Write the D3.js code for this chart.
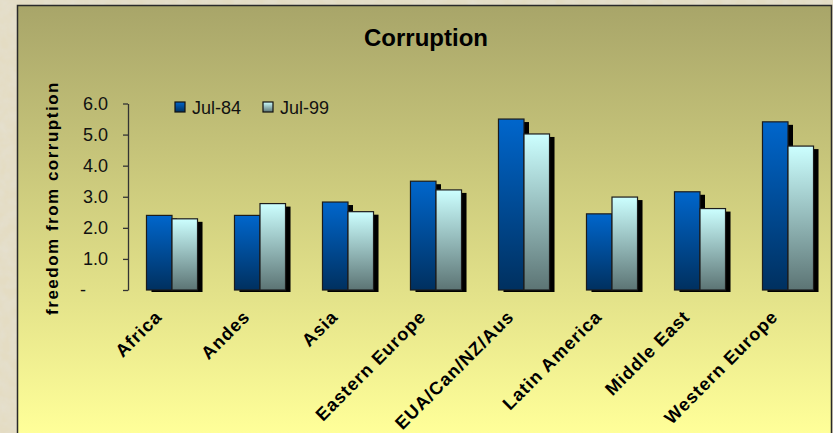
<!DOCTYPE html>
<html>
<head>
<meta charset="utf-8">
<script src="https://cdn.jsdelivr.net/npm/d3@7/dist/d3.min.js"></script>
<style>
  html, body { margin: 0; padding: 0; background: #e4dcc3; }
  svg { display: block; font-family: "Liberation Sans", Arial, sans-serif; }
</style>
</head>
<body>
<svg id="chart"></svg>
<script>
let categories = ['Africa', 'Andes', 'Asia', 'Eastern Europe', 'EUA/Can/NZ/Aus', 'Latin America', 'Middle East', 'Western Europe'];
let seriesNames = ['Jul-84', 'Jul-99'];
let jul84 = [2.40, 2.40, 2.83, 3.50, 5.50, 2.45, 3.16, 5.41];
let jul99 = [2.29, 2.78, 2.52, 3.22, 5.02, 2.99, 2.62, 4.63];
let yTicks = [0, 1, 2, 3, 4, 5, 6];

let width = 833,
    height = 433;

let rows = categories.map((c, i) => ({ cat: c, values: [jul84[i], jul99[i]] }));

let svg = d3.select('#chart')
            .attr('width', width)
            .attr('height', height);

let defs = svg.append('defs');

// parchment texture outside the chart panel
let tex = defs.append('filter')
              .attr('id', 'parchment')
              .attr('x', 0).attr('y', 0).attr('width', 1).attr('height', 1);
tex.append('feTurbulence')
    .attr('type', 'fractalNoise')
    .attr('baseFrequency', 0.09)
    .attr('numOctaves', 3)
    .attr('seed', 4);
tex.append('feColorMatrix')
    .attr('values', '0 0 0 0 0.78  0 0 0 0 0.74  0 0 0 0 0.62  0 0 0 -1.6 1.15');
tex.append('feComposite').attr('in2', 'SourceGraphic').attr('operator', 'in');

let panelGrad = defs.append('linearGradient')
                    .attr('id', 'panelGrad')
                    .attr('gradientUnits', 'userSpaceOnUse')
                    .attr('x1', 0).attr('y1', 5).attr('x2', 0).attr('y2', 433);
panelGrad.append('stop').attr('offset', 0).attr('stop-color', '#a8a569');
panelGrad.append('stop').attr('offset', 1).attr('stop-color', '#ffff99');

let barColors = [['#0066cc', '#00305f'], ['#ccffff', '#5c7474']];
barColors.forEach((c, i) => {
  let g = defs.append('linearGradient')
              .attr('id', 'barGrad' + i)
              .attr('x1', 0).attr('y1', 0).attr('x2', 0).attr('y2', 1);
  g.append('stop').attr('offset', 0).attr('stop-color', c[0]);
  g.append('stop').attr('offset', 1).attr('stop-color', c[1]);
});

svg.append('rect')
    .attr('width', width)
    .attr('height', height)
    .attr('fill', '#e4dcc3');
svg.append('rect')
    .attr('width', width)
    .attr('height', height)
    .attr('fill', '#fff')
    .attr('filter', 'url(#parchment)');

svg.append('rect')
    .attr('x', 17.5)
    .attr('y', 5.5)
    .attr('width', 814)
    .attr('height', 460)
    .attr('fill', 'url(#panelGrad)')
    .attr('stroke', '#2a2a2a')
    .attr('stroke-width', 1.5);

let x0 = d3.scaleBand()
           .domain(categories)
           .range([128, 832])
           .paddingInner(0.42)
           .paddingOuter(0.21);

let x1 = d3.scaleBand()
           .domain(seriesNames)
           .range([0, x0.bandwidth()]);

let y = d3.scaleLinear()
          .domain([0, 6])
          .range([290, 103.5]);

svg.append('text')
    .attr('x', 426)
    .attr('y', 46)
    .attr('text-anchor', 'middle')
    .attr('font-size', 24)
    .attr('font-weight', 'bold')
    .attr('fill', '#000')
    .text('Corruption');

svg.append('text')
    .attr('transform', 'translate(58,198) rotate(-90)')
    .attr('text-anchor', 'middle')
    .attr('font-size', 17)
    .attr('font-weight', 'bold')
    .attr('letter-spacing', 1.5)
    .attr('fill', '#000')
    .text('freedom from corruption');

let yAxis = svg.append('g')
               .attr('transform', 'translate(128,0)')
               .call(d3.axisLeft(y)
                 .tickValues(yTicks)
                 .tickSize(5)
                 .tickSizeOuter(0)
                 .tickPadding(15)
                 .tickFormat(d => d === 0 ? '-' : d3.format('.1f')(d)));

yAxis.select('.domain').attr('stroke', '#333').attr('stroke-width', 1.3);
yAxis.selectAll('.tick line').attr('stroke', '#333').attr('stroke-width', 1.3);
yAxis.selectAll('.tick text')
    .attr('font-family', '"Liberation Sans", Arial, sans-serif')
    .attr('font-size', 18)
    .attr('fill', '#111');
yAxis.selectAll('.tick text')
    .filter(d => d === 0)
    .attr('x', -42);

let groups = svg.append('g')
                .selectAll('g')
                .data(rows)
                .enter()
                .append('g')
                .attr('transform', d => `translate(${x0(d.cat)},0)`);

let bars = d => d.values.map((v, i) => ({ key: seriesNames[i], value: v, i: i }));

groups.selectAll('rect.shadow')
    .data(bars)
    .enter()
    .append('rect')
    .attr('class', 'shadow')
    .attr('x', d => x1(d.key) + 5)
    .attr('y', d => y(d.value) + 3)
    .attr('width', x1.bandwidth())
    .attr('height', d => y(0) - y(d.value) - 1)
    .attr('fill', '#000');

groups.selectAll('rect.bar')
    .data(bars)
    .enter()
    .append('rect')
    .attr('class', 'bar')
    .attr('x', d => x1(d.key))
    .attr('y', d => y(d.value))
    .attr('width', x1.bandwidth())
    .attr('height', d => y(0) - y(d.value))
    .attr('fill', d => `url(#barGrad${d.i})`)
    .attr('stroke', '#1c1c1c')
    .attr('stroke-width', 1.2);

svg.append('g')
    .selectAll('text')
    .data(categories)
    .enter()
    .append('text')
    .attr('transform', d => `translate(${x0(d) + x0.bandwidth() / 2 - 9},318) rotate(-45)`)
    .attr('text-anchor', 'end')
    .attr('font-size', 18)
    .attr('font-weight', 'bold')
    .attr('letter-spacing', 1)
    .attr('fill', '#000')
    .text(d => d);

let legend = svg.append('g')
                .selectAll('g')
                .data(seriesNames)
                .enter()
                .append('g')
                .attr('transform', (d, i) => `translate(${175 + i * 88},102)`);

legend.append('rect')
    .attr('width', 10)
    .attr('height', 10)
    .attr('fill', (d, i) => `url(#barGrad${i})`)
    .attr('stroke', '#111')
    .attr('stroke-width', 1.2);

legend.append('text')
    .attr('x', 17)
    .attr('y', 11.5)
    .attr('font-size', 18)
    .attr('fill', '#111')
    .text(d => d);
</script>
</body>
</html>
